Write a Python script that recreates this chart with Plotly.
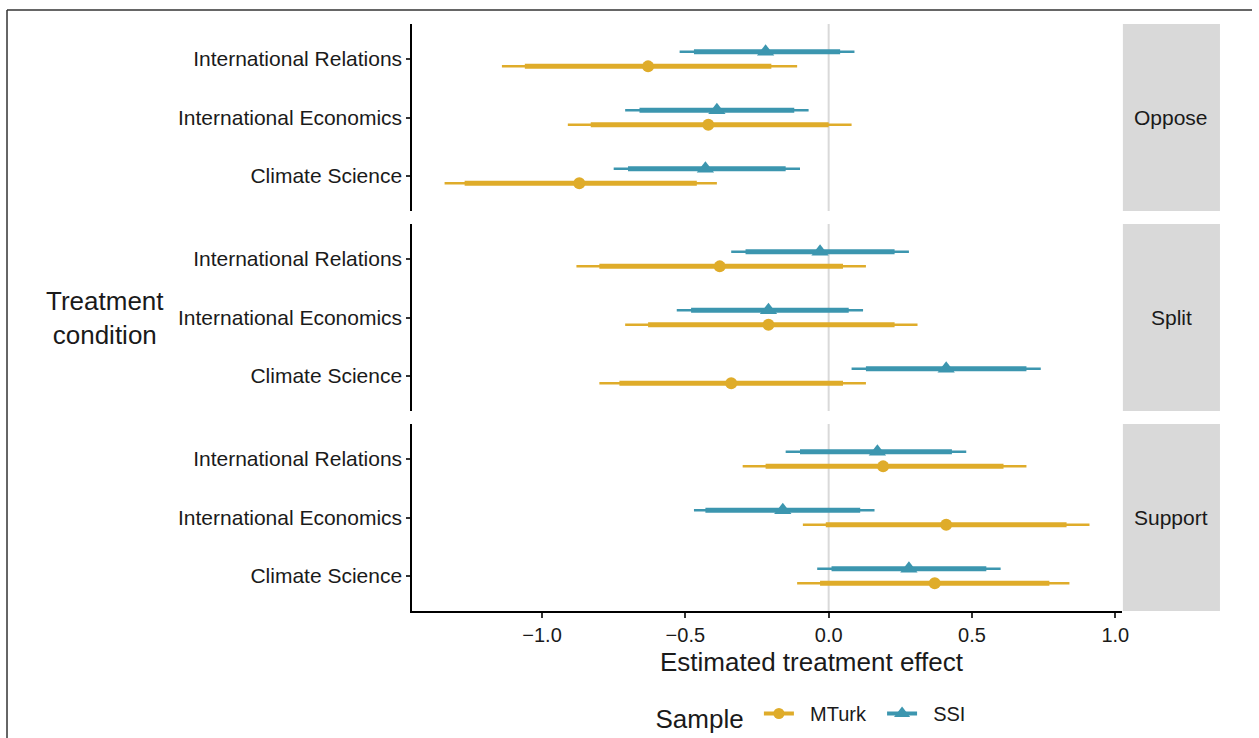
import plotly.graph_objects as go

# ---------------- data ----------------
panels = ["Oppose", "Split", "Support"]
categories = ["International Relations", "International Economics", "Climate Science"]
cat_pos = [3, 2, 1]

mturk_est  = [[-0.63, -0.42, -0.87], [-0.38, -0.21, -0.34], [0.19, 0.41, 0.37]]
mturk_lo95 = [[-1.14, -0.91, -1.34], [-0.88, -0.71, -0.80], [-0.30, -0.09, -0.11]]
mturk_lo90 = [[-1.06, -0.83, -1.27], [-0.80, -0.63, -0.73], [-0.22, -0.01, -0.03]]
mturk_hi90 = [[-0.20, 0.00, -0.46], [0.05, 0.23, 0.05], [0.61, 0.83, 0.77]]
mturk_hi95 = [[-0.11, 0.08, -0.39], [0.13, 0.31, 0.13], [0.69, 0.91, 0.84]]

ssi_est  = [[-0.22, -0.39, -0.43], [-0.03, -0.21, 0.41], [0.17, -0.16, 0.28]]
ssi_lo95 = [[-0.52, -0.71, -0.75], [-0.34, -0.53, 0.08], [-0.15, -0.47, -0.04]]
ssi_lo90 = [[-0.47, -0.66, -0.70], [-0.29, -0.48, 0.13], [-0.10, -0.43, 0.01]]
ssi_hi90 = [[0.04, -0.12, -0.15], [0.23, 0.07, 0.69], [0.43, 0.11, 0.55]]
ssi_hi95 = [[0.09, -0.07, -0.10], [0.28, 0.12, 0.74], [0.48, 0.16, 0.60]]

x_ticks = [-1.0, -0.5, 0.0, 0.5, 1.0]
x_ticklabels = ["\u22121.0", "\u22120.5", "0.0", "0.5", "1.0"]

# ---------------- style ----------------
W, H = 1259, 738
SX = 1259 / 1251  # small horizontal correction for the capture


def px(x):
    return x * SX / W


def py(y):
    return 1 - y / H


GOLD = "#DFAC2A"
TEAL = "#3C96AF"
FONT = "Liberation Sans, Arial, Helvetica, sans-serif"
TXT = "#1a1a1a"

x_left, x_right = 412, 1121
strip_l, strip_r = 1122, 1219
panel_px = [(24, 211), (224, 411), (424, 611)]
dodge = 0.125

series = [
    ("MTurk", GOLD, "circle", 12, -dodge, mturk_est, mturk_lo95, mturk_lo90, mturk_hi90, mturk_hi95),
    ("SSI", TEAL, "triangle-up", 15, dodge, ssi_est, ssi_lo95, ssi_lo90, ssi_hi90, ssi_hi95),
]

fig = go.Figure()

for p in range(3):
    xa = "x" if p == 0 else f"x{p+1}"
    ya = "y" if p == 0 else f"y{p+1}"
    for name, col, sym, msize, off, est, lo95, lo90, hi90, hi95 in series:
        xs_o, ys_o, xs_i, ys_i = [], [], [], []
        for c in range(3):
            yy = cat_pos[c] + off
            xs_o += [lo95[p][c], hi95[p][c], None]
            ys_o += [yy, yy, None]
            xs_i += [lo90[p][c], hi90[p][c], None]
            ys_i += [yy, yy, None]
        fig.add_trace(go.Scatter(x=xs_o, y=ys_o, mode="lines", line=dict(color=col, width=2.5),
                                 xaxis=xa, yaxis=ya, showlegend=False, hoverinfo="skip"))
        fig.add_trace(go.Scatter(x=xs_i, y=ys_i, mode="lines", line=dict(color=col, width=5),
                                 xaxis=xa, yaxis=ya, showlegend=False, hoverinfo="skip"))
        fig.add_trace(go.Scatter(x=est[p], y=[cp + off for cp in cat_pos], mode="markers",
                                 marker=dict(color=col, symbol=sym, size=msize, line=dict(width=0)),
                                 xaxis=xa, yaxis=ya, showlegend=False, name=name))

# legend entries
for name, col, sym, msize, *_ in series:
    fig.add_trace(go.Scatter(x=[None], y=[None], mode="lines+markers",
                             name="\u00a0\u00a0" + name + "\u00a0\u00a0",
                             line=dict(color=col, width=4),
                             marker=dict(color=col, symbol=sym, size=msize - 1)))

layout = dict(
    width=W, height=H,
    margin=dict(l=0, r=0, t=0, b=0),
    paper_bgcolor="white", plot_bgcolor="white",
    font=dict(family=FONT, color=TXT, size=21),
    showlegend=True,
    legend=dict(orientation="h", x=px(653), xanchor="left", y=py(716), yanchor="middle",
                title=dict(text="Sample\u00a0", side="left", font=dict(size=26)),
                font=dict(size=20), itemwidth=30, tracegroupgap=0),
)

xr = [(x_left - 828) / 286.4, (x_right - 828) / 286.4]
for p in range(3):
    sfx = "" if p == 0 else str(p + 1)
    top, bot = panel_px[p]
    layout["xaxis" + sfx] = dict(
        domain=[px(x_left), px(x_right)], range=xr, anchor="y" + sfx,
        showgrid=False, zeroline=False,
        showline=(p == 2), linecolor="black", linewidth=2,
        ticks="outside" if p == 2 else "", ticklen=5, tickwidth=1.5, tickcolor="#333",
        tickvals=x_ticks, ticktext=x_ticklabels, showticklabels=(p == 2),
        tickfont=dict(size=20, color=TXT),
        matches=None if p == 0 else "x",
    )
    layout["yaxis" + sfx] = dict(
        domain=[py(bot), py(top)], range=[0.4, 3.6], anchor="x" + sfx,
        showgrid=False, zeroline=False,
        showline=True, linecolor="black", linewidth=2,
        ticks="outside", ticklen=4, tickwidth=1.5, tickcolor="#333",
        tickvals=cat_pos, ticktext=categories, tickfont=dict(size=21, color=TXT),
    )

fig.update_layout(**layout)

shapes = []
annotations = []
for p in range(3):
    top, bot = panel_px[p]
    xa = "x" if p == 0 else f"x{p+1}"
    ya = "y" if p == 0 else f"y{p+1}"
    shapes.append(dict(type="line", xref=xa, yref=ya + " domain", x0=0, x1=0, y0=0, y1=1,
                       line=dict(color="#D9D9D9", width=2), layer="below"))
    shapes.append(dict(type="rect", xref="paper", yref="paper",
                       x0=px(strip_l), x1=px(strip_r), y0=py(bot), y1=py(top),
                       fillcolor="#D9D9D9", line=dict(width=0), layer="below"))
    annotations.append(dict(text=panels[p], xref="paper", yref="paper",
                            x=px((strip_l + strip_r) / 2), y=py((top + bot) / 2),
                            showarrow=False, font=dict(size=21, color=TXT),
                            xanchor="center", yanchor="middle"))

# outer frame (left and top edges of the original figure border)
shapes.append(dict(type="line", xref="paper", yref="paper", x0=px(7), x1=px(7), y0=0, y1=py(10),
                   line=dict(color="#333", width=1.5)))
shapes.append(dict(type="line", xref="paper", yref="paper", x0=px(7), x1=1, y0=py(10), y1=py(10),
                   line=dict(color="#333", width=1.5)))

annotations.append(dict(text="Treatment<br>condition", xref="paper", yref="paper",
                        x=px(105), y=py(318), showarrow=False, align="center",
                        font=dict(size=26, color=TXT), xanchor="center", yanchor="middle"))
annotations.append(dict(text="Estimated treatment effect", xref="paper", yref="paper",
                        x=px(811), y=py(662), showarrow=False,
                        font=dict(size=26, color=TXT), xanchor="center", yanchor="middle"))

fig.update_layout(shapes=shapes, annotations=annotations)
fig.write_html(
    "out.html",
    config={"displayModeBar": False},
    post_script=("document.documentElement.style.margin='0px';"
                 "document.body.style.margin='0px';"
                 "document.documentElement.style.overflow='hidden';"
                 "document.body.style.overflow='hidden';"),
)
